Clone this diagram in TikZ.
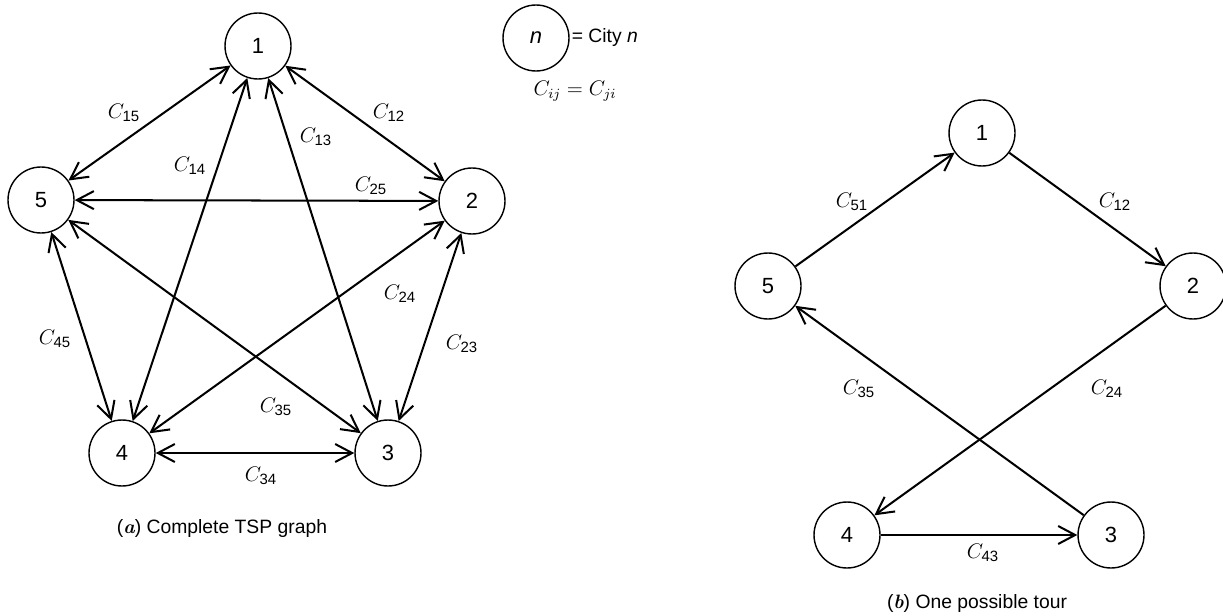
\documentclass[tikz,border=0pt]{standalone}
\usepackage{fontspec}
\setsansfont{Liberation Sans}
\newcommand*{\cst}[1]{$C_{\mbox{\fontsize{8.5}{9}\selectfont\sffamily #1}}$}
\usepackage{tikz}
\usetikzlibrary{positioning,arrows.meta}
\tikzset{>={Straight Barb[length=3.4mm,width=3.6mm]}}
\tikzset{city/.style={draw,circle,line width=.8pt,minimum size=1.32cm,inner sep=0pt,
    font=\fontsize{12.5}{14}\selectfont\sffamily},
  edge/.style={line width=1.15pt},
  lbl/.style={inner sep=1pt,font=\fontsize{11.5}{13}\selectfont},
  captxt/.style={inner sep=1pt,font=\fontsize{11}{13}\selectfont\sffamily}}

\begin{document}
\begin{tikzpicture}[x=.02cm,y=-.02cm]
\useasboundingbox (0,0) rectangle (1223,615);

% Complete graph: five cities, every pair joined both ways
\foreach \n/\x/\y in {1/258/46,2/472/201,3/388/453,4/122/453,5/41/200}
  \node[city] (a\n) at (\x,\y) {\n};
\foreach \i/\j in {1/2,1/3,1/4,1/5,2/3,2/4,2/5,3/4,3/5,4/5}
  \draw[edge,<->] (a\i) -- (a\j);
\foreach \ij/\x/\y in {15/124/113,12/389/113,13/316/137,14/190/166,25/371/186,
    24/400/294,45/55/339,23/462/344,35/276/407,34/261/476}
  \node[lbl] (ca\ij) at (\x,\y) {\cst{\ij}};
\node[captxt] (capa) at (222,528) {({\rmfamily\bfseries\itshape a}) Complete TSP graph};

% Key
\node[city] (key) at (536,38) {\itshape n};
\node[captxt,right=0pt of key] (keytxt) {= City \textit{n}};
\node[lbl] (sym) at (575,91) {$C_{ij} = C_{ji}$};

% A tour: 5 -> 1 -> 2 -> 4 -> 3 -> 5
\foreach \n/\x/\y in {1/982/133,2/1193/286,3/1111/535,4/847/535,5/768/286}
  \node[city] (b\n) at (\x,\y) {\n};
\foreach \i/\j in {5/1,1/2,2/4,4/3,3/5}
  \draw[edge,->] (b\i) -- (b\j);
\foreach \ij/\x/\y in {51/852/202,12/1115/202,35/859/389,24/1107/389,43/983/553}
  \node[lbl] (cb\ij) at (\x,\y) {\cst{\ij}};
\node[captxt] (capb) at (977,603) {({\rmfamily\bfseries\itshape b}) One possible tour};
\end{tikzpicture}
\end{document}
